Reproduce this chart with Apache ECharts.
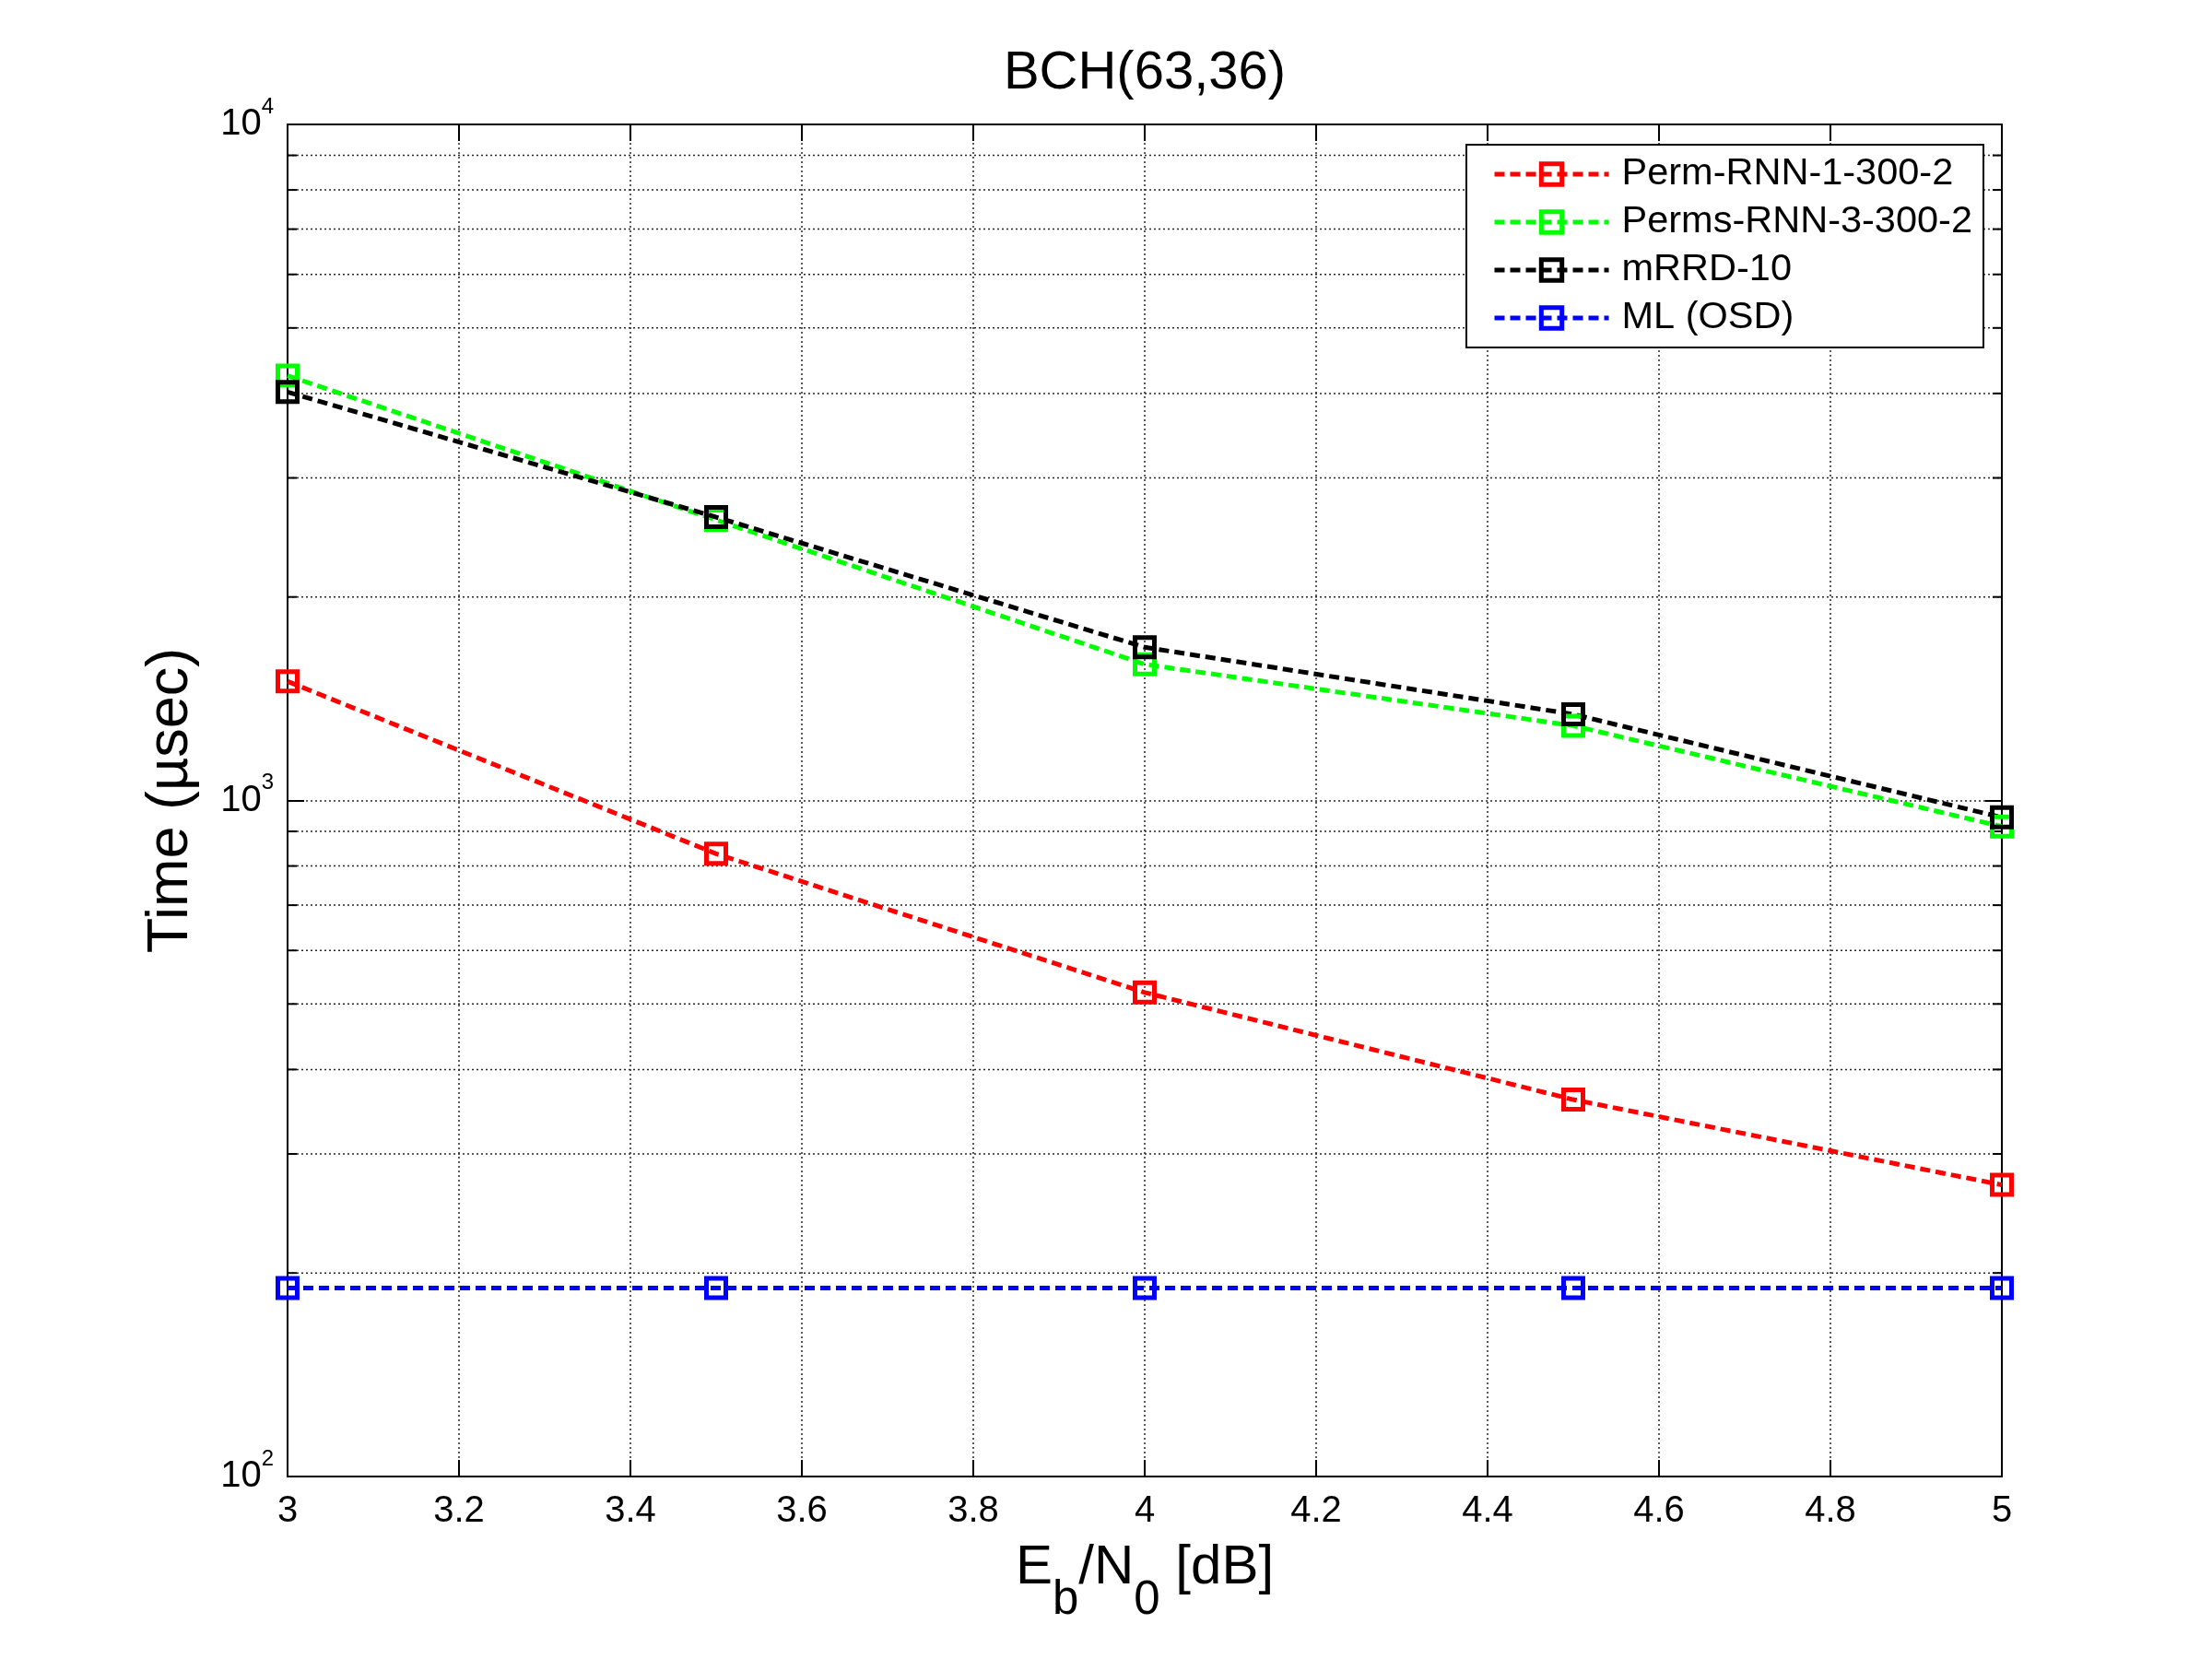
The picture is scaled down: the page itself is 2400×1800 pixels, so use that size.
<!DOCTYPE html>
<html>
<head>
<meta charset="utf-8">
<title>BCH(63,36)</title>
<script src="https://cdn.jsdelivr.net/npm/echarts@6/dist/echarts.min.js"></script>
<style>
  html, body { margin: 0; padding: 0; background: #fff; }
  #main { width: 2400px; height: 1800px; }
</style>
</head>
<body>
<div id="main"></div>
<script>
// Eb/N0 (dB)
var snr = [3, 3.5, 4, 4.5, 5];
// decoding time (usec)
var permRnn1 = [1500, 834, 520, 361, 270];
var permsRnn3 = [4250, 2600, 1590, 1290, 915];
var mrrd10 = [4020, 2625, 1685, 1341, 944];
var mlOsd = [190, 190, 190, 190, 190];
// minor log grid lines of the y axis
var minorYTicks = [200, 300, 400, 500, 600, 700, 800, 900, 2000, 3000, 4000, 5000, 6000, 7000, 8000, 9000];

var FONT = 'Liberation Sans, Arial, sans-serif';

function pairs(ys) {
	return snr.map(function(x, i) { return [x, ys[i]]; });
}

function lineSeries(name, color, ys) {
	return {
		name: name,
		type: 'line',
		xAxisIndex: 0,
		yAxisIndex: 0,
		data: pairs(ys),
		symbol: 'rect',
		symbolSize: 21,
		lineStyle: { color: color, width: 5, type: [11, 6] },
		itemStyle: { color: 'rgba(255,255,255,0)', borderColor: color, borderWidth: 5 },
		emphasis: { disabled: true },
		animation: false
	};
}

var myChart = echarts.init(document.getElementById('main'));

var option = {
	backgroundColor: '#fff',
	animation: false,
	title: {
		text: 'BCH(63,36)',
		left: 1242,
		textAlign: 'center',
		top: 51,
		padding: 0,
		textStyle: { fontFamily: FONT, fontSize: 58, fontWeight: 'normal', color: '#000' }
	},
	grid: { left: 312, right: 228, top: 135, bottom: 198, containLabel: false },
	legend: {
		orient: 'vertical',
		right: 248,
		top: 157,
		padding: [11, 12, 11, 28],
		itemGap: 10,
		itemWidth: 124,
		itemHeight: 28,
		backgroundColor: '#fff',
		borderColor: '#000',
		borderWidth: 2,
		borderRadius: 0,
		selectedMode: false,
		data: ['Perm-RNN-1-300-2', 'Perms-RNN-3-300-2', 'mRRD-10', 'ML (OSD)'],
		itemStyle: { borderWidth: 5 },
		lineStyle: { width: 5 },
		textStyle: { fontFamily: FONT, fontSize: 41.5, lineHeight: 42, color: '#000', padding: [0, 0, 0, 9] }
	},
	xAxis: [{
		type: 'value',
		min: 3,
		max: 5,
		interval: 0.2,
		position: 'bottom',
		name: '{m|E}{s|b}{m|/N}{s|0}{m| [dB]}',
		nameLocation: 'middle',
		nameGap: 69,
		nameTextStyle: {
			fontFamily: FONT, color: '#000',
			rich: {
				m: { fontFamily: FONT, fontSize: 60, lineHeight: 62, verticalAlign: 'top', color: '#000' },
				s: { fontFamily: FONT, fontSize: 51, lineHeight: 91, verticalAlign: 'bottom', color: '#000' }
			}
		},
		axisLine: { onZero: false, lineStyle: { color: '#000', width: 2 } },
		axisTick: { inside: true, length: 18, lineStyle: { color: '#000', width: 2 } },
		axisLabel: {
			fontFamily: FONT, fontSize: 40, color: '#000', margin: 18,
			formatter: function(v) { return String(Math.round(v * 10) / 10); }
		},
		splitLine: { show: true, lineStyle: { color: '#262626', width: 1.5, type: [2, 3] } }
	}, {
		type: 'value',
		min: 3,
		max: 5,
		interval: 0.2,
		position: 'top',
		axisLine: { onZero: false, lineStyle: { color: '#000', width: 2 } },
		axisTick: { inside: true, length: 18, lineStyle: { color: '#000', width: 2 } },
		axisLabel: { show: false },
		splitLine: { show: false }
	}],
	yAxis: [{
		type: 'log',
		logBase: 10,
		min: 100,
		max: 10000,
		position: 'left',
		name: 'Time (\u00b5sec)',
		nameLocation: 'middle',
		nameGap: 95,
		nameTextStyle: { fontFamily: FONT, fontSize: 63, color: '#000' },
		axisLine: { onZero: false, lineStyle: { color: '#000', width: 2 } },
		axisTick: { inside: true, length: 18, lineStyle: { color: '#000', width: 2 } },
		axisLabel: {
			margin: 15,
			padding: [0, 0, 11, 0],
			formatter: function(v) {
				return '{b|10}{sup|' + Math.round(Math.log10(v)) + '}';
			},
			rich: {
				b: { fontFamily: FONT, fontSize: 40, lineHeight: 51, verticalAlign: 'bottom', color: '#000' },
				sup: { fontFamily: FONT, fontSize: 24, lineHeight: 24, verticalAlign: 'top', color: '#000' }
			}
		},
		splitLine: { show: true, lineStyle: { color: '#262626', width: 1.5, type: [2, 3] } }
	}, {
		type: 'log',
		logBase: 10,
		min: 100,
		max: 10000,
		position: 'right',
		axisLine: { onZero: false, lineStyle: { color: '#000', width: 2 } },
		axisTick: { inside: true, length: 18, lineStyle: { color: '#000', width: 2 } },
		axisLabel: { show: false },
		splitLine: { show: false }
	}],
	series: [{
		// minor log grid + minor ticks on both sides
		type: 'custom',
		xAxisIndex: 0,
		yAxisIndex: 0,
		silent: true,
		data: minorYTicks.map(function(v) { return [3, v]; }),
		renderItem: function(params, api) {
			var y = api.coord([3, api.value(1)])[1];
			var cs = params.coordSys;
			var x0 = cs.x, x1 = cs.x + cs.width;
			return {
				type: 'group',
				children: [
					{ type: 'line', shape: { x1: x0, y1: y, x2: x1, y2: y },
						style: { stroke: '#262626', lineWidth: 1.5, lineDash: [2, 3] } },
					{ type: 'line', shape: { x1: x0, y1: y, x2: x0 + 10, y2: y },
						style: { stroke: '#000', lineWidth: 2 } },
					{ type: 'line', shape: { x1: x1 - 10, y1: y, x2: x1, y2: y },
						style: { stroke: '#000', lineWidth: 2 } }
				]
			};
		}
	},
		lineSeries('ML (OSD)', '#0000ff', mlOsd),
		lineSeries('Perm-RNN-1-300-2', '#ff0000', permRnn1),
		lineSeries('Perms-RNN-3-300-2', '#00ff00', permsRnn3),
		lineSeries('mRRD-10', '#000000', mrrd10)
	]
};

myChart.setOption(option);
</script>
</body>
</html>
